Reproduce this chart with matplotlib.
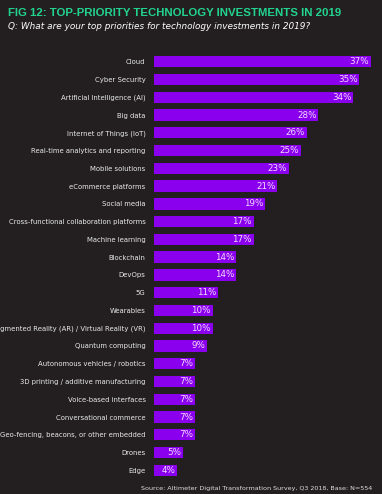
import matplotlib
matplotlib.use("Agg")
import matplotlib.pyplot as plt

# Datos
categorias = [
    "Cloud", "Cyber Security", "Artificial Intelligence (AI)", "Big data",
    "Internet of Things (IoT)", "Real-time analytics and reporting",
    "Mobile solutions", "eCommerce platforms", "Social media",
    "Cross-functional collaboration platforms", "Machine learning",
    "Blockchain", "DevOps", "5G", "Wearables",
    "Augmented Reality (AR) / Virtual Reality (VR)", "Quantum computing",
    "Autonomous vehicles / robotics", "3D printing / additive manufacturing",
    "Voice-based interfaces", "Conversational commerce",
    "Geo-fencing, beacons, or other embedded", "Drones", "Edge",
]
valores = [37, 35, 34, 28, 26, 25, 23, 21, 19, 17, 17, 14, 14, 11, 10, 10, 9,
           7, 7, 7, 7, 7, 5, 4]

FONDO = "#231f20"
MORADO = "#8a00ee"
VERDE = "#22d38f"

fig = plt.figure(figsize=(3.82, 4.94), dpi=100, facecolor=FONDO)
ax = fig.add_axes([0.403, 0.030, 0.576, 0.863], facecolor=FONDO)

y = list(range(len(categorias)))
ax.barh(y, valores, height=0.64, color=MORADO)
ax.set_ylim(len(categorias) - 0.5, -0.5)
ax.set_xlim(0, 37.5)

for yi, v in zip(y, valores):
    ax.text(v - 0.3, yi, f"{v}%", ha="right", va="center",
            color="#f3dcff", fontsize=6.3)

ax.set_yticks(y)
ax.set_yticklabels(categorias, fontsize=4.95, color="#e8e8e8")
ax.tick_params(axis="y", length=0, pad=6)
ax.set_xticks([])
for s in ax.spines.values():
    s.set_visible(False)

fig.text(0.021, 0.984, "FIG 12: TOP-PRIORITY TECHNOLOGY INVESTMENTS IN 2019",
         color=VERDE, fontsize=8.2, fontweight="bold", va="top",
         family="Liberation Sans")
fig.text(0.021, 0.955, "Q: What are your top priorities for technology investments in 2019?",
         color="white", fontsize=6.4, style="italic", va="top")
fig.text(0.975, 0.006, "Source: Altimeter Digital Transformation Survey, Q3 2018, Base: N=554",
         color="#dddddd", fontsize=4.6, ha="right", va="bottom")

fig.savefig("out.png", dpi=100, facecolor=FONDO)
